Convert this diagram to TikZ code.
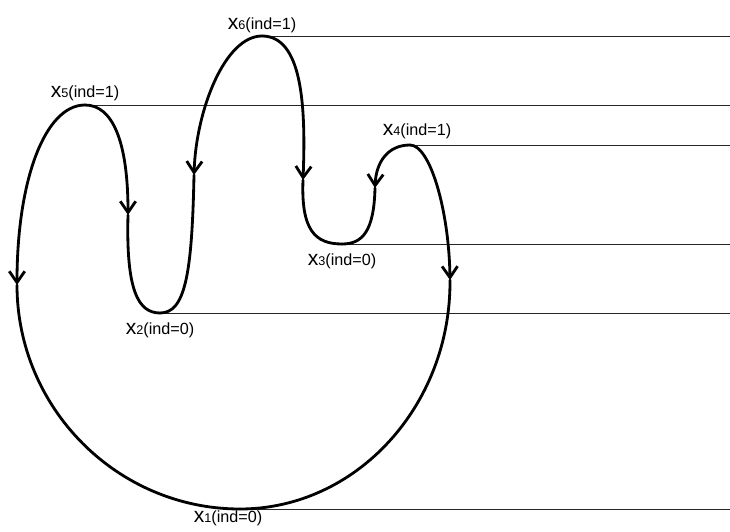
\documentclass[tikz,border=0pt]{standalone}
\usepackage{fontspec}
\setmainfont{Liberation Sans}
\usetikzlibrary{arrows.meta, positioning}
\newcommand{\crit}[2]{{\fontsize{15}{15}\selectfont x}{\fontsize{9}{9}\selectfont #1}(ind=#2)}
\tikzset{
  level/.style={line width=0.7pt, black!85},
  branch/.style={line width=2pt, line cap=round},
  flow/.style={branch, -{Straight Barb[length=8pt, width=11pt]}},
  lab/.style={inner sep=1pt, font=\fontsize{11.5}{12}\selectfont}
}

\begin{document}
\begin{tikzpicture}[x=0.025cm, y=-0.025cm]

  \useasboundingbox (0,0) rectangle (730,532);

  \coordinate (x1) at (240,509);
  \coordinate (x2) at (160,313);
  \coordinate (x3) at (342,244);
  \coordinate (x4) at (410,145);
  \coordinate (x5) at (85,105);
  \coordinate (x6) at (262,36);
  \coordinate (edge) at (730,0);

  \foreach \i in {1,...,6}
    \draw [level] (x\i) -- (edge |- x\i);

  \draw [flow] (x5) .. controls (45,105) and (17,180) .. (17,285) coordinate (a1);
  \draw [branch] (a1) .. controls (17,408) and (117,509) .. (x1);
  \draw [flow] (x4) .. controls (430,145) and (449,210) .. (450,280) coordinate (b1);
  \draw [branch] (b1) .. controls (451,406) and (356,509) .. (x1);

  \draw [flow] (x5) .. controls (112,105) and (128,140) .. (128,215) coordinate (a2);
  \draw [branch] (a2) .. controls (126,290) and (138,313) .. (x2);
  \draw [flow] (x6) .. controls (225,36) and (196,110) .. (194,175) coordinate (b2);
  \draw [branch] (b2) .. controls (192,275) and (185,313) .. (x2);

  \draw [flow] (x6) .. controls (302,36) and (306,105) .. (303,180) coordinate (a3);
  \draw [branch] (a3) .. controls (301,230) and (315,244) .. (x3);
  \draw [flow] (x4) .. controls (388,145) and (376,162) .. (375,188) coordinate (b3);
  \draw [branch] (b3) .. controls (374,232) and (362,244) .. (x3);

  \node (l1) [lab, below=0pt of x1, xshift=-8.5pt] {\crit{1}{0}};
  \node (l2) [lab, below=6pt of x2] {\crit{2}{0}};
  \node (l3) [lab, below=5.4pt of x3] {\crit{3}{0}};
  \node (l4) [lab, above=3pt of x4, xshift=5pt] {\crit{4}{1}};
  \node (l5) [lab, above=2pt of x5] {\crit{5}{1}};
  \node (l6) [lab, above=1pt of x6] {\crit{6}{1}};

\end{tikzpicture}
\end{document}
